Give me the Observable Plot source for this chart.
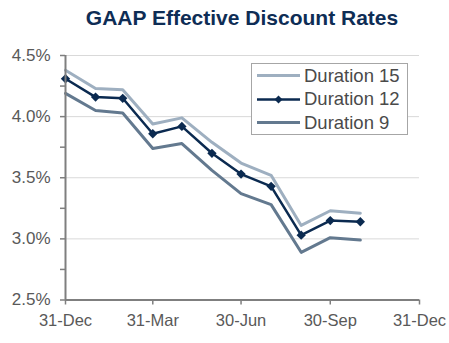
<!DOCTYPE html>
<html>
<head>
<meta charset="utf-8">
<script src="https://cdn.jsdelivr.net/npm/d3@7"></script>
<script src="https://cdn.jsdelivr.net/npm/@observablehq/plot@0.6"></script>
<style>
  html, body { margin: 0; padding: 0; background: #fff; }
  #wrap { position: relative; width: 449px; height: 343px; font-family: "Liberation Sans", Arial, sans-serif; }
  #title { height: 36px; line-height: 35.5px; box-sizing: border-box; padding-left: 65px; padding-right: 30px;
           text-align: center; font-weight: bold; font-size: 21px; color: #0e2d55; white-space: nowrap; }
  #legend { position: absolute; left: 251px; top: 63px; width: 157px; height: 72px; box-sizing: border-box;
            border: 1px solid #a6a6a6; background: #fff; padding-left: 5px; }
  .row { display: flex; align-items: center; height: 23.5px; font-size: 18.5px; color: #4a4a4a; }
  .row svg { margin-right: 4px; flex: none; }
</style>
</head>
<body>
<div id="wrap">
  <div id="title">GAAP Effective Discount Rates</div>
  <div id="chart"></div>
  <div id="legend"></div>
</div>
<script>
// Data (percent), month-end observations
const dates = ["2020-12-31","2021-01-31","2021-02-28","2021-03-31","2021-04-30","2021-05-31",
               "2021-06-30","2021-07-31","2021-08-31","2021-09-30","2021-10-31"];
const duration15 = [4.38, 4.23, 4.22, 3.94, 3.99, 3.79, 3.62, 3.52, 3.11, 3.23, 3.21];
const duration12 = [4.31, 4.16, 4.15, 3.86, 3.92, 3.70, 3.53, 3.43, 3.03, 3.15, 3.14];
const duration9  = [4.19, 4.05, 4.03, 3.74, 3.78, 3.56, 3.37, 3.28, 2.89, 3.01, 2.99];
const seriesNames = ["Duration 15", "Duration 12", "Duration 9"];
const colors = ["#9eafc0", "#0b2a50", "#63798f"];
const xDomain = ["2020-12-31", "2021-12-31"];
const xTicks = ["2020-12-31", "2021-03-31", "2021-06-30", "2021-09-30", "2021-12-31"];
const yTicks = [2.5, 3.0, 3.5, 4.0, 4.5];
const yMinorTicks = [2.5, 2.75, 3.0, 3.25, 3.5, 3.75, 4.0, 4.25, 4.5];

const parse = d3.utcParse("%Y-%m-%d");
const allSeries = [duration15, duration12, duration9];
const rows = [];
allSeries.forEach((vals, i) => vals.forEach((v, j) => rows.push({date: parse(dates[j]), value: v, series: seriesNames[i]})));
const d15 = rows.filter(r => r.series === seriesNames[0]);
const d12 = rows.filter(r => r.series === seriesNames[1]);
const d9 = rows.filter(r => r.series === seriesNames[2]);
const xt = xTicks.map(parse);
const axisGray = "#7f7f7f";

const chart = Plot.plot({
  width: 449,
  height: 307,
  marginLeft: 65,
  marginRight: 30,
  marginTop: 19,
  marginBottom: 43.5,
  style: {fontFamily: "'Liberation Sans', Arial, sans-serif", fontSize: "16.5px", color: "#595959", background: "#fff"},
  x: {type: "utc", domain: xDomain.map(parse)},
  y: {domain: [yTicks[0], yTicks[yTicks.length - 1]]},
  marks: [
    Plot.gridY(yTicks.slice(1), {stroke: "#d9d9d9", strokeOpacity: 1, strokeWidth: 1}),
    Plot.line(d15, {x: "date", y: "value", stroke: colors[0], strokeWidth: 3}),
    Plot.line(d9, {x: "date", y: "value", stroke: colors[2], strokeWidth: 3}),
    Plot.line(d12, {x: "date", y: "value", stroke: colors[1], strokeWidth: 2.5}),
    Plot.dot(d12, {x: "date", y: "value", fill: colors[1], symbol: "diamond2", r: 4.2, stroke: "none"}),
    Plot.axisY(yMinorTicks, {tickSize: 5, tickFormat: () => "", stroke: axisGray, strokeWidth: 1.5, label: null}),
    Plot.axisY(yTicks, {tickSize: 0, tickPadding: 15, fontSize: 17, tickFormat: d => d.toFixed(1) + "%", fill: "#595959", label: null}),
    Plot.axisX(xt, {tickSize: 5, tickFormat: () => "", stroke: axisGray, strokeWidth: 1.5, label: null}),
    Plot.axisX(xt, {tickSize: 0, tickPadding: 14, tickFormat: d3.utcFormat("%d-%b"), fill: "#595959", label: null}),
    Plot.ruleX([parse(dates[0])], {stroke: axisGray, strokeWidth: 2}),
    Plot.ruleY([yTicks[0]], {stroke: axisGray, strokeWidth: 2})
  ]
});
document.getElementById("chart").appendChild(chart);

// Legend
const legend = document.getElementById("legend");
seriesNames.forEach((name, i) => {
  const row = document.createElement("div");
  row.className = "row";
  const marker = i === 1 ? `<path d="M21.5,6.5 L25.5,10.5 L21.5,14.5 L17.5,10.5 Z" fill="${colors[i]}"/>` : "";
  row.innerHTML = `<svg width="43" height="21"><line x1="0" x2="43" y1="10.5" y2="10.5" stroke="${colors[i]}" stroke-width="${i === 1 ? 2.5 : 3}"/>${marker}</svg><span>${name}</span>`;
  legend.appendChild(row);
});
</script>
</body>
</html>
